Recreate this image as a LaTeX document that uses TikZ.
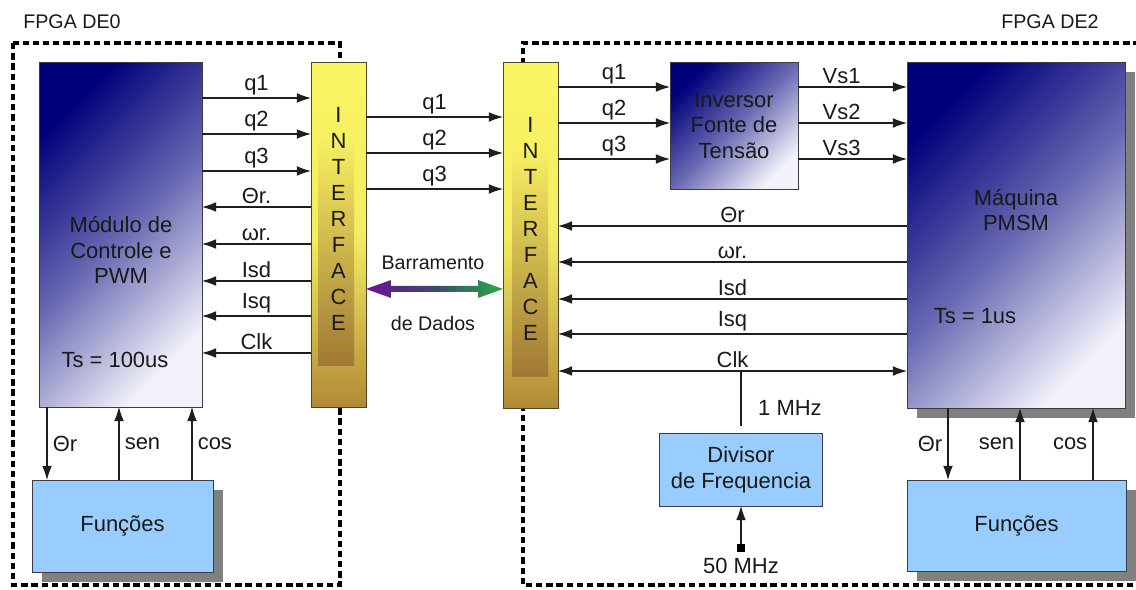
\documentclass[tikz,border=0pt]{standalone}
\usepackage{fontspec}
\setmainfont{Liberation Sans}
\usetikzlibrary{arrows.meta, positioning, calc, shadows}

\definecolor{txt}{RGB}{25,25,25}
\definecolor{wirec}{RGB}{30,30,30}
\definecolor{edge}{RGB}{60,60,72}
\definecolor{navy}{RGB}{0,0,122}
\definecolor{midblue}{RGB}{104,104,178}
\definecolor{pale}{RGB}{242,242,250}
\definecolor{lightblue}{RGB}{153,204,255}
\definecolor{shadowc}{RGB}{128,128,128}
\definecolor{ifyel}{RGB}{250,245,100}
\definecolor{ifbrown}{RGB}{178,138,55}
\definecolor{ifedge}{RGB}{80,70,40}
\definecolor{panelbrown}{RGB}{160,120,52}
\definecolor{buspurple}{RGB}{112,18,150}
\definecolor{busmid}{RGB}{60,72,110}
\definecolor{busgreen}{RGB}{40,172,72}

\begin{document}
\begin{tikzpicture}[x=0.02cm, y=-0.02cm,
    >={Latex[length=8pt,width=5.5pt]},
    every node/.style={font=\fontsize{12.5}{14.7}\selectfont, text=txt},
    small/.style={font=\fontsize{11.2}{13}\selectfont},
    wire/.style={draw=wirec, line width=0.6pt},
    sig/.style={wire, ->},
    lab/.style={above, inner sep=1.5pt},
    fpga/.style={draw=black, line width=2.4pt, dash pattern=on 3.6pt off 2.2pt},
    blk/.style={draw=edge, line width=0.5pt, inner sep=0pt, outer sep=0pt, align=center},
    deep/.style={blk, top color=navy, bottom color=pale, middle color=midblue, shading angle=45},
    light/.style={blk, fill=lightblue},
    shadowed/.style={drop shadow={shadow xshift=5.7pt, shadow yshift=-5.7pt, fill=shadowc, opacity=1}},
    iface/.style={draw=ifedge, line width=0.5pt, inner sep=0pt, outer sep=0pt,
                  top color=ifyel, bottom color=ifbrown, middle color=ifyel!92!ifbrown},
    letters/.style={align=center, font=\fontsize{12.5}{14.74}\selectfont},
    sqmark/.style={fill=black, minimum size=4.5pt, inner sep=0pt}
  ]
  \useasboundingbox (0,0) rectangle (1136,590);

  % the two boards
  \draw[fpga] (13,43) rectangle (340,585);
  \draw[fpga] (1150,43) -- (523,43) -- (523,585) -- (1150,585);
  \node[small] (de0) at (72,22) {FPGA DE0};
  \node[small] (de2) at (1050,22) {FPGA DE2};

  % blocks
  \node[deep, minimum width=3.26cm, minimum height=6.9cm] (mod) at (120.5,234.5) {};
  \node (modtxt) at (121,250) [align=center] {Módulo de\\Controle e\\PWM};
  \node (modts) at (115,360) {Ts = 100us};
  \node[light, shadowed, minimum width=3.62cm, minimum height=1.84cm] (funl) at (122.5,526) {Funções};

  \node[iface, minimum width=1.1cm, minimum height=6.9cm] (ifl) at (338.5,234.5) {};
  \shade[top color=ifyel!95!ifbrown, bottom color=panelbrown] (318,140) rectangle (354,366);
  \node[letters] (ifltxt) at (338.5,219) {I\\N\\T\\E\\R\\F\\A\\C\\E};

  \node[iface, minimum width=1.1cm, minimum height=6.92cm] (ifr) at (530.5,235) {};
  \shade[top color=ifyel!95!ifbrown, bottom color=panelbrown] (512,150) rectangle (548,377);
  \node[letters] (ifrtxt) at (530.5,229) {I\\N\\T\\E\\R\\F\\A\\C\\E};

  \node[deep, minimum width=2.56cm, minimum height=2.54cm] (inv) at (734,125.5) {Inversor\\Fonte de\\Tensão};
  \node[deep, shadowed, minimum width=4.36cm, minimum height=6.92cm] (maq) at (1016,235) {};
  \node (maqtxt) at (1016,210) [align=center] {Máquina\\PMSM};
  \node (maqts) at (975,316) {Ts = 1us};
  \node[light, shadowed, minimum width=4.38cm, minimum height=1.82cm] (funr) at (1016.5,525.5) {Funções};

  \node[light, minimum width=3.26cm, minimum height=1.46cm] (div) at (741,469.5) {Divisor\\de Frequencia};
  \node[sqmark] (clkin) at (741,548) {};
  \node[below=0pt of clkin] (f50) {50 MHz};
  \node[anchor=west] (f1) at (752,408) {1 MHz};

  % signals, board DE0
  \foreach \y/\t in {98/q1,134/q2,171/q3}
    \draw[sig] (mod.east |- 0,\y) -- node[lab]{\t} (ifl.west |- 0,\y);
  \foreach \y/\t in {207/Θr.,244/ωr.,281/Isd,316/Isq,353/Clk}
    \draw[sig] (ifl.west |- 0,\y) -- node[lab]{\t} (mod.east |- 0,\y);
  \draw[sig] (47,0 |- mod.south) -- node[right, inner sep=3pt]{Θr} (47,0 |- funl.north);
  \draw[sig] (119,0 |- funl.north) -- node[right, inner sep=3pt]{sen} (119,0 |- mod.south);
  \draw[sig] (192,0 |- funl.north) -- node[right, inner sep=3pt]{cos} (192,0 |- mod.south);

  % between the boards
  \foreach \y/\t in {117/q1,153/q2,189/q3}
    \draw[sig] (ifl.east |- 0,\y) -- node[lab]{\t} (ifr.west |- 0,\y);
  \coordinate (busl) at (ifl.east |- 0,289);
  \coordinate (busr) at (ifr.west |- 0,289);
  \shade[left color=buspurple, right color=busgreen, middle color=busmid]
    (busl) -- ++(25,-9) -- ++(0,6) -- ($(busr)+(-25,-3)$) -- ++(0,-6) -- (busr)
    -- ++(-25,9) -- ++(0,-6) -- ($(busl)+(25,3)$) -- ++(0,6) -- cycle;
  \node[small] (bus1) at (433,263) {Barramento};
  \node[small] (bus2) at (433,323) {de Dados};

  % signals, board DE2
  \foreach \y/\t in {87/q1,123/q2,159/q3}
    \draw[sig] (ifr.east |- 0,\y) -- node[lab]{\t} (inv.west |- 0,\y);
  \foreach \y/\t in {87/Vs1,123/Vs2,159/Vs3}
    \draw[sig] (inv.east |- 0,\y) -- node[lab, pos=0.4]{\t} (maq.west |- 0,\y);
  \foreach \y/\t in {226/Θr,262/ωr.,299/Isd,334/Isq}
    \draw[sig] (maq.west |- 0,\y) -- node[lab]{\t} (ifr.east |- 0,\y);
  \draw[wire, <->] (ifr.east |- 0,371) -- node[lab]{Clk} (maq.west |- 0,371);
  \draw[wire, shorten <=4pt] (div.north) -- (div.north |- 0,371);
  \draw[sig] (clkin) -- (div.south);
  \draw[sig] (948,0 |- maq.south) -- node[left, inner sep=3pt]{Θr} (948,0 |- funr.north);
  \draw[sig] (1020,0 |- funr.north) -- node[left, inner sep=3pt]{sen} (1020,0 |- maq.south);
  \draw[sig] (1093,0 |- funr.north) -- node[left, inner sep=3pt]{cos} (1093,0 |- maq.south);
\end{tikzpicture}
\end{document}
